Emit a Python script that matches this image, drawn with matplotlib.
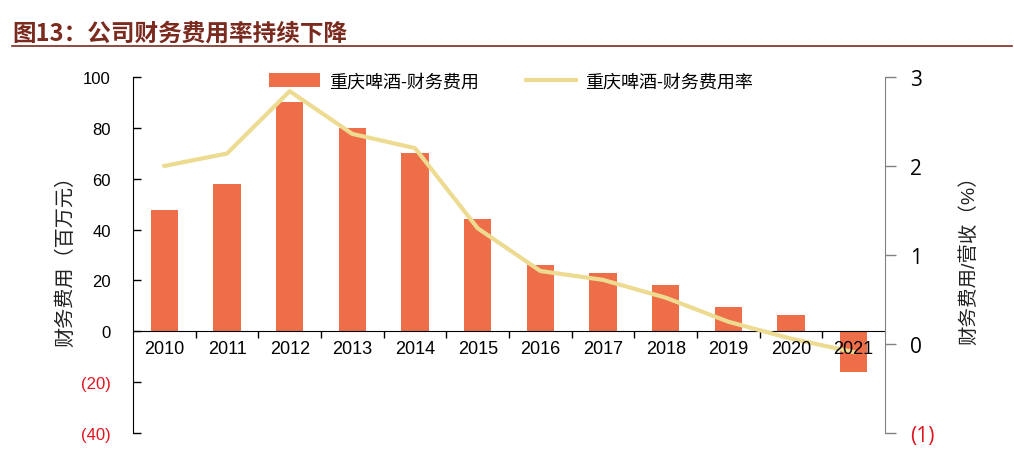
import matplotlib.pyplot as plt
import matplotlib.transforms as mtransforms
import numpy as np

plt.rcParams['font.family'] = ['Liberation Sans', 'Noto Sans CJK SC', 'DejaVu Sans']

years = ['2010', '2011', '2012', '2013', '2014', '2015', '2016', '2017', '2018', '2019', '2020', '2021']
fin_cost = [47.5, 58, 90, 80, 70, 44, 26, 23, 18, 9.5, 6.5, -16]          # 百万元
fin_rate = [2.0, 2.14, 2.84, 2.36, 2.2, 1.3, 0.82, 0.72, 0.52, 0.25, 0.06, -0.09]  # %

left_ticks = [-40, -20, 0, 20, 40, 60, 80, 100]
left_labels = ['(40)', '(20)', '0', '20', '40', '60', '80', '100']
right_ticks = [-1, 0, 1, 2, 3]
right_labels = ['(1)', '0', '1', '2', '3']

bar_color = '#EE6E4A'
line_color = '#EDDB91'
title_color = '#7A2A1E'

fig = plt.figure(figsize=(10.14, 4.64), dpi=100, facecolor='white')
ax = fig.add_axes([0.1312, 0.0647, 0.7416, 0.7673])
ax2 = ax.twinx()

x = np.arange(len(years))
ax.bar(x, fin_cost, width=0.44, color=bar_color, label='重庆啤酒-财务费用', zorder=2)
ax2.plot(x, fin_rate, color=line_color, lw=3, label='重庆啤酒-财务费用率', zorder=3)

ax.set_xlim(-0.5, len(years) - 0.5)
ax.set_ylim(-40, 100)
ax2.set_ylim(-1, 3)

# left axis
ax.set_yticks(left_ticks)
ax.set_yticklabels(left_labels, fontsize=12)
for t, v in zip(ax.get_yticklabels(), left_ticks):
    t.set_color('#E0141E' if v < 0 else 'black')
ax.tick_params(axis='y', direction='in', length=6, width=1, pad=16)
ax.set_ylabel('财务费用（百万元）', fontsize=14.5, color='#222222', labelpad=4)

# x axis at zero
ax.spines['top'].set_visible(False)
ax.spines['right'].set_visible(False)
ax.spines['bottom'].set_position(('data', 0))
ax.spines['bottom'].set_color('black')
ax.set_xticks(x)
ax.set_xticklabels([])
ax.tick_params(axis='x', which='major', length=0)
ax.set_xticks(x[:-1] + 0.5, minor=True)
ax.tick_params(axis='x', which='minor', direction='out', length=5, width=1)

# year labels drawn on top of bars and line
trans = mtransforms.blended_transform_factory(ax.transData, ax.transData)
for xi, yr in zip(x, years):
    ax2.text(xi, -3.5, yr, transform=trans, ha='center', va='top', fontsize=13, zorder=5)

# right axis
for s in ['top', 'left', 'bottom']:
    ax2.spines[s].set_visible(False)
ax2.spines['right'].set_color('#808080')
ax2.set_yticks(right_ticks)
ax2.set_yticklabels(right_labels, fontsize=15, family=['Open Sans', 'DejaVu Sans'])
for t, v in zip(ax2.get_yticklabels(), right_ticks):
    t.set_color('#E0141E' if v < 0 else 'black')
ax2.tick_params(axis='y', direction='out', length=8, width=1, color='#808080', pad=10)
ax2.set_ylabel('财务费用/营收（%）', fontsize=14, color='#222222', labelpad=18)

h1, l1 = ax.get_legend_handles_labels()
h2, l2 = ax2.get_legend_handles_labels()
fig.legend(h1 + h2, l1 + l2, loc='center', bbox_to_anchor=(0.504, 0.822), ncol=2,
           frameon=False, fontsize=13, handlelength=2.8, handleheight=0.8,
           columnspacing=2.6, handletextpad=0.5)

fig.text(0.012, 0.928, '图13：公司财务费用率持续下降', fontsize=17, fontweight='bold',
         color=title_color, family=['Noto Sans CJK SC'], va='center')
fig.add_artist(plt.Line2D([0.012, 0.998], [0.898, 0.898], color=title_color, lw=1.2))

plt.savefig('out.png', dpi=100, facecolor='white')
